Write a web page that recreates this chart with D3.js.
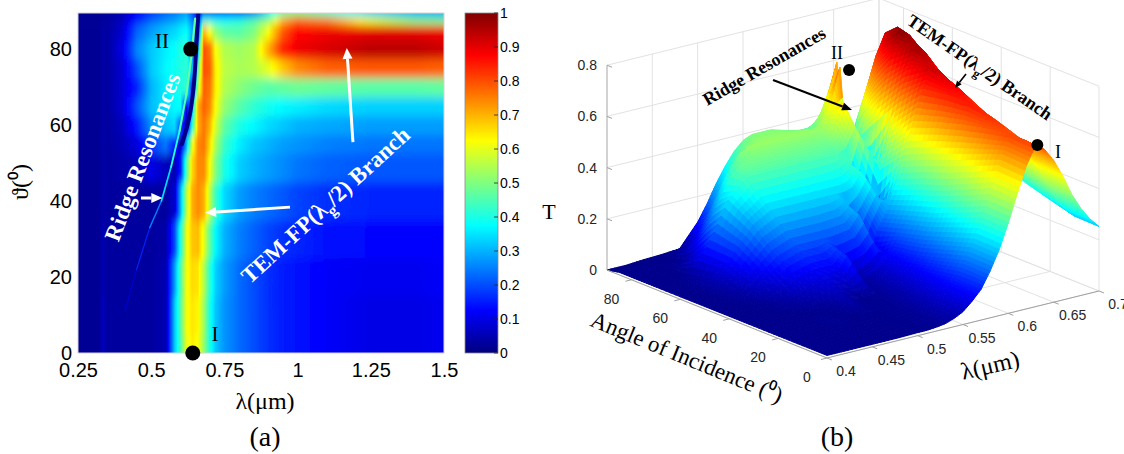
<!DOCTYPE html>
<html>
<head>
<meta charset="utf-8">
<script src="https://cdnjs.cloudflare.com/ajax/libs/d3/7.8.5/d3.min.js"></script>
<style>
body { margin: 0; padding: 0; background: #fff; }
svg { display: block; }
</style>
<title>Transmission map and surface</title>
</head>
<body>
<svg id="fig" width="1124" height="454"></svg>
<script>
	/* panel (a): T(lambda, theta) map */
	var lamA = [0.25, 0.32, 0.335, 0.35, 0.40, 0.45, 0.50, 0.55, 0.58, 0.60, 0.62, 0.64, 0.66,
		0.68, 0.70, 0.72, 0.75, 0.80, 0.85, 0.90, 0.95, 1.00, 1.10, 1.25, 1.40, 1.50];
	var angA = [0, 10, 20, 30, 40, 50, 55, 60, 65, 70, 75, 80, 85, 88, 89.5];
	var transA = [
		[.02,.02,.06,.03,.03,.03,.03,.05,.32,.45,.60,.64,.62,.52,.40,.32,.27,.23,.20,.17,.15,.14,.12,.10,.10,.11],
		[.02,.02,.06,.03,.03,.03,.03,.05,.32,.46,.61,.65,.63,.53,.40,.32,.27,.23,.20,.17,.15,.14,.12,.10,.10,.11],
		[.02,.02,.05,.03,.03,.03,.03,.05,.28,.45,.61,.66,.65,.55,.42,.33,.28,.23,.20,.17,.15,.14,.12,.11,.11,.12],
		[.02,.02,.05,.03,.03,.03,.03,.04,.20,.40,.60,.68,.69,.60,.47,.37,.30,.25,.22,.19,.17,.16,.14,.13,.13,.13],
		[.02,.02,.04,.03,.03,.03,.03,.03,.08,.30,.55,.70,.74,.70,.56,.43,.34,.28,.25,.23,.21,.19,.17,.16,.16,.16],
		[.02,.02,.04,.03,.04,.05,.10,.06,.05,.15,.45,.66,.74,.74,.62,.50,.40,.33,.30,.28,.26,.24,.22,.21,.21,.21],
		[.02,.02,.04,.03,.05,.09,.18,.24,.15,.06,.30,.60,.74,.76,.66,.54,.43,.36,.32,.30,.28,.27,.25,.24,.24,.24],
		[.02,.02,.04,.03,.06,.15,.27,.32,.34,.20,.06,.40,.70,.76,.70,.58,.47,.40,.37,.34,.32,.30,.29,.28,.28,.28],
		[.02,.02,.04,.03,.08,.20,.31,.35,.37,.38,.10,.30,.70,.78,.74,.62,.52,.46,.42,.39,.37,.36,.34,.33,.33,.33],
		[.02,.02,.04,.03,.08,.16,.30,.36,.38,.40,.42,.15,.55,.78,.76,.64,.55,.51,.48,.46,.47,.48,.47,.46,.46,.47],
		[.02,.02,.04,.03,.08,.20,.32,.37,.39,.40,.42,.30,.45,.80,.78,.64,.56,.54,.55,.60,.68,.74,.78,.79,.79,.78],
		[.02,.02,.04,.03,.10,.25,.32,.36,.38,.40,.42,.25,.30,.80,.76,.62,.55,.53,.55,.70,.84,.89,.91,.94,.94,.92],
		[.02,.02,.04,.03,.08,.22,.28,.32,.34,.36,.38,.30,.15,.70,.62,.52,.47,.46,.50,.62,.79,.87,.89,.90,.90,.89],
		[.02,.02,.03,.03,.06,.15,.22,.26,.28,.30,.32,.25,.15,.40,.40,.38,.38,.40,.45,.52,.70,.78,.75,.60,.50,.48],
		[.02,.02,.03,.03,.05,.12,.18,.22,.24,.26,.28,.20,.10,.12,.12,.12,.13,.14,.22,.35,.45,.48,.42,.32,.28,.28]
	];
	// the thin ridge resonance line and the dark notch next to it
	var ridgeLam = [0.41, 0.45, 0.495, 0.535, 0.568, 0.597, 0.62, 0.637, 0.65];
	var ridgeAng = [11, 22, 33, 40, 49, 58.5, 68, 78, 88];
	var ridgeT = [0.06, 0.12, 0.20, 0.30, 0.38, 0.43, 0.46, 0.48, 0.45];
	var notchLam = [0.605, 0.63, 0.645, 0.652, 0.657, 0.661];
	var notchAng = [55, 62, 70, 78, 85, 89.5];

	var lamTicksA = [0.25, 0.5, 0.75, 1, 1.25, 1.5];
	var angTicksA = [0, 20, 40, 60, 80];
	var cbarTicks = [0, 0.1, 0.2, 0.3, 0.4, 0.5, 0.6, 0.7, 0.8, 0.9, 1];

	/* panel (b): surface T(theta, lambda) */
	var lamB = [0.40, 0.42, 0.44, 0.46, 0.48, 0.50, 0.51, 0.52, 0.53, 0.54, 0.55, 0.56, 0.57,
		0.58, 0.59, 0.60, 0.61, 0.62, 0.63, 0.64, 0.65, 0.66, 0.67, 0.68, 0.69, 0.70];
	var angB = [0, 10, 20, 30, 40, 50, 60, 70, 75, 80, 85, 90];
	var transB = [
		[.01,.01,.01,.01,.01,.012,.012,.015,.02,.032,.05,.082,.12,.183,.258,.353,.46,.56,.63,.605,.554,.485,.403,.34,.29,.252],
		[.01,.01,.01,.01,.01,.012,.012,.015,.02,.032,.05,.083,.12,.185,.26,.356,.464,.565,.635,.61,.56,.49,.405,.343,.292,.254],
		[.01,.01,.01,.015,.01,.012,.012,.015,.016,.026,.042,.068,.104,.156,.228,.315,.419,.527,.618,.644,.598,.54,.46,.384,.325,.28],
		[.01,.01,.01,.01,.015,.04,.015,.012,.013,.02,.034,.054,.087,.127,.194,.275,.375,.489,.596,.67,.643,.59,.516,.429,.362,.308],
		[.01,.01,.012,.03,.065,.08,.08,.08,.13,.012,.028,.046,.074,.112,.168,.245,.34,.452,.567,.665,.693,.644,.58,.497,.413,.35],
		[.01,.01,.025,.08,.135,.16,.16,.16,.16,.16,.165,.17,.22,.03,.139,.212,.299,.409,.533,.65,.73,.70,.642,.562,.467,.394],
		[.01,.01,.04,.13,.22,.26,.26,.26,.26,.26,.26,.26,.26,.26,.27,.32,.03,.312,.426,.555,.676,.76,.73,.669,.585,.486],
		[.01,.01,.02,.14,.28,.35,.35,.35,.35,.35,.35,.35,.35,.35,.35,.35,.37,.44,.04,.437,.569,.694,.78,.749,.686,.60],
		[.01,.01,.01,.075,.23,.36,.38,.38,.38,.38,.38,.38,.38,.38,.38,.38,.42,.52,.04,.373,.497,.624,.732,.762,.708,.639],
		[.01,.01,.01,.02,.135,.275,.345,.39,.41,.41,.41,.41,.41,.41,.41,.41,.41,.48,.63,.04,.403,.526,.641,.72,.691,.634],
		[.01,.01,.01,.01,.05,.165,.235,.30,.35,.385,.40,.40,.40,.40,.39,.39,.38,.39,.48,.62,.04,.355,.446,.523,.545,.506],
		[0,0,.005,.008,.013,.10,.16,.23,.29,.34,.375,.39,.39,.39,.38,.37,.36,.36,.37,.42,.50,.03,.219,.267,.30,.288]
	];
	var lamTicksB = [0.4, 0.45, 0.5, 0.55, 0.6, 0.65, 0.7];
	var angTicksB = [0, 20, 40, 60, 80];
	var tTicksB = [0, 0.2, 0.4, 0.6, 0.8];
	// marked points II and I on the surface: [theta, lambda, T]
	var pointsB = [[80, 0.64, 0.61], [0, 0.632, 0.63]];

	var SANS = "'Liberation Sans', Arial, sans-serif";
	var SERIF = "'Liberation Serif', 'Times New Roman', serif";

	function jet(t) {
		t = Math.max(0, Math.min(1, t));
		function c(v) { return Math.round(255 * Math.max(0, Math.min(1, v))); }
		return "rgb(" + c(1.5 - Math.abs(4 * t - 3)) + "," + c(1.5 - Math.abs(4 * t - 2)) + ","
			+ c(1.5 - Math.abs(4 * t - 1)) + ")";
	}

	function arrow(g, x1, y1, x2, y2, color, w, hl, hw) {
		var a = Math.atan2(y2 - y1, x2 - x1);
		var bx = x2 - hl * Math.cos(a), by = y2 - hl * Math.sin(a);
		var px = -Math.sin(a) * hw / 2, py = Math.cos(a) * hw / 2;
		g.append("line").attr("x1", x1).attr("y1", y1).attr("x2", bx).attr("y2", by)
			.attr("stroke", color).attr("stroke-width", w);
		g.append("path").attr("fill", color)
			.attr("d", "M" + x2 + "," + y2 + "L" + (bx + px) + "," + (by + py) + "L" + (bx - px) + "," + (by - py) + "Z");
	}

	function branchText(g, x, y, rot, size, color) {
		var t = g.append("text").attr("transform", "translate(" + x + "," + y + ") rotate(" + rot + ")")
			.attr("text-anchor", "middle").attr("dy", "0.35em").attr("fill", color)
			.attr("font-family", SERIF).attr("font-weight", "bold").attr("font-size", size);
		t.append("tspan").text("TEM-FP(\u03bb");
		t.append("tspan").attr("font-size", size * 0.68).attr("dy", size * 0.28).text("g");
		t.append("tspan").attr("dy", -size * 0.28).text("/2) Branch");
	}

	var svg = d3.select("#fig");
	var defs = svg.append("defs");
	svg.append("rect").attr("width", 1124).attr("height", 454).attr("fill", "#fff");

	/* ---------- (a) ---------- */
	var xA = d3.scaleLinear().domain([0.25, 1.5]).range([78, 444]);
	var yA = d3.scaleLinear().domain([0, 89.5]).range([353, 13]);

	defs.append("clipPath").attr("id", "clipA").append("rect")
		.attr("x", 78).attr("y", 13).attr("width", 366).attr("height", 340);
	defs.append("filter").attr("id", "soft").attr("x", "-5%").attr("y", "-20%")
		.attr("width", "110%").attr("height", "140%")
		.append("feGaussianBlur").attr("stdDeviation", "0 5");

	// one horizontal gradient per angle row (jet is piecewise linear, so a few
	// sub-stops per interval keep the colours right, like shading interp)
	var x0 = xA(lamA[0]), x1 = xA(lamA[lamA.length - 1]);
	angA.forEach(function(a, i) {
		var g = defs.append("linearGradient").attr("id", "rowA" + i)
			.attr("gradientUnits", "userSpaceOnUse")
			.attr("x1", x0).attr("x2", x1).attr("y1", 0).attr("y2", 0);
		var row = transA[i];
		for (var j = 0; j < lamA.length; j++) {
			var last = j == lamA.length - 1;
			var n = last ? 1 : 4;
			for (var k = 0; k < n; k++) {
				var f = k / n;
				var lam = last ? lamA[j] : lamA[j] + f * (lamA[j + 1] - lamA[j]);
				var t = last ? row[j] : row[j] + f * (row[j + 1] - row[j]);
				g.append("stop").attr("offset", (xA(lam) - x0) / (x1 - x0)).attr("stop-color", jet(t));
			}
		}
	});

	var mapA = svg.append("g").attr("clip-path", "url(#clipA)");
	var bands = mapA.append("g").attr("filter", "url(#soft)");
	angA.forEach(function(a, i) {
		var top = i == angA.length - 1 ? yA(angA[i]) - 30 : yA((angA[i] + angA[i + 1]) / 2);
		var bot = i == 0 ? yA(0) + 30 : yA((angA[i - 1] + angA[i]) / 2);
		bands.append("rect").attr("x", x0).attr("width", x1 - x0)
			.attr("y", top).attr("height", bot - top + 0.5)
			.attr("fill", "url(#rowA" + i + ")");
	});

	var notch = d3.line().x(function(d, i) { return xA(notchLam[i]); })
		.y(function(d, i) { return yA(notchAng[i]); }).curve(d3.curveCatmullRom);
	mapA.append("path").attr("d", notch(notchLam)).attr("fill", "none")
		.attr("stroke", jet(0.01)).attr("stroke-width", 4).attr("stroke-linecap", "round");
	for (var r = 0; r < ridgeLam.length - 1; r++) {
		mapA.append("line")
			.attr("x1", xA(ridgeLam[r])).attr("y1", yA(ridgeAng[r]))
			.attr("x2", xA(ridgeLam[r + 1])).attr("y2", yA(ridgeAng[r + 1]))
			.attr("stroke", jet((ridgeT[r] + ridgeT[r + 1]) / 2))
			.attr("stroke-width", 0.8 + 3 * ridgeT[r]).attr("stroke-linecap", "round");
	}

	svg.append("rect").attr("x", 78).attr("y", 13).attr("width", 366).attr("height", 340)
		.attr("fill", "none").attr("stroke", "#d4d4d4").attr("stroke-width", 1);

	var axA = svg.append("g").attr("transform", "translate(0,353)")
		.call(d3.axisBottom(xA).tickValues(lamTicksA).tickSize(0).tickPadding(10)
			.tickFormat(function(d) { return String(d); }));
	var ayA = svg.append("g").attr("transform", "translate(78,0)")
		.call(d3.axisLeft(yA).tickValues(angTicksA).tickSize(0).tickPadding(6));
	[axA, ayA].forEach(function(g) {
		g.select(".domain").remove();
		g.selectAll("text").attr("font-family", SANS).attr("font-size", 20).attr("fill", "#000");
	});
	ayA.selectAll("text").attr("dy", "0.3em");

	// colour bar
	var cbY = d3.scaleLinear().domain([0, 1]).range([353, 13]);
	var cg = defs.append("linearGradient").attr("id", "cbar")
		.attr("x1", 0).attr("x2", 0).attr("y1", 1).attr("y2", 0);
	[0, 0.125, 0.375, 0.625, 0.875, 1].forEach(function(t) {
		cg.append("stop").attr("offset", t).attr("stop-color", jet(t));
	});
	svg.append("rect").attr("x", 465).attr("y", 13).attr("width", 33).attr("height", 340)
		.attr("fill", "url(#cbar)").attr("stroke", "#8a8a8a").attr("stroke-width", 0.8);
	svg.selectAll(".cbtick").data(cbarTicks).enter().append("line")
		.attr("x1", 494).attr("x2", 498).attr("y1", cbY).attr("y2", cbY)
		.attr("stroke", "#222").attr("stroke-width", 0.8);
	var acb = svg.append("g").attr("transform", "translate(498,0)")
		.call(d3.axisRight(cbY).tickValues(cbarTicks).tickSize(0).tickPadding(2)
			.tickFormat(function(d) { return String(d); }));
	acb.select(".domain").remove();
	acb.selectAll("text").attr("font-family", SANS).attr("font-size", 14).attr("fill", "#000");

	// annotations (a)
	var annA = svg.append("g");
	arrow(annA, xA(0.465), yA(40.8), xA(0.538), yA(40.8), "#fff", 3, 11, 10);
	arrow(annA, xA(0.974), yA(38.4), xA(0.684), yA(36.9), "#fff", 3, 11, 10);
	arrow(annA, xA(1.189), yA(55.5), xA(1.168), yA(80.3), "#fff", 3, 11, 10);
	annA.append("text").attr("transform", "translate(" + xA(0.469) + "," + yA(51.6) + ") rotate(-69.4)")
		.attr("text-anchor", "middle").attr("dy", "0.35em").attr("fill", "#fff")
		.attr("font-family", SERIF).attr("font-weight", "bold").attr("font-size", 23)
		.text("Ridge Resonances");
	branchText(annA, xA(1.094), yA(39), -42.5, 23, "#fff");
	annA.append("circle").attr("cx", xA(0.635)).attr("cy", yA(80)).attr("r", 7.5).attr("fill", "#000");
	annA.append("circle").attr("cx", xA(0.642)).attr("cy", yA(0)).attr("r", 7.5).attr("fill", "#000");
	annA.append("text").attr("x", 162).attr("y", 48).attr("text-anchor", "middle")
		.attr("font-family", SERIF).attr("font-size", 21).text("II");
	annA.append("text").attr("x", 215).attr("y", 341).attr("text-anchor", "middle")
		.attr("font-family", SERIF).attr("font-size", 21).text("I");

	svg.append("text").attr("x", 265).attr("y", 409).attr("text-anchor", "middle")
		.attr("font-family", SERIF).attr("font-size", 24).text("\u03bb(\u03bcm)");
	svg.append("text").attr("transform", "translate(28,182) rotate(-90)").attr("text-anchor", "middle")
		.attr("font-family", SERIF).attr("font-size", 24).text("\u03d1(\u2070)");
	svg.append("text").attr("x", 265).attr("y", 446).attr("text-anchor", "middle")
		.attr("font-family", SERIF).attr("font-size", 28).text("(a)");

	/* ---------- (b) ---------- */
	var sTh = d3.scaleLinear().domain([0, 90]).range([0, 1]);
	var sLam = d3.scaleLinear().domain([0.4, 0.7]).range([0, 1]);
	var sT = d3.scaleLinear().domain([0, 1]).range([0, 256]);
	function proj(th, lam, t) {
		var u = sTh(th), v = sLam(lam);
		return [827 - 220 * u + 272 * v, 358 - 88 * u - 67 * v - sT(t)];
	}
	function seg(g, a, b, color, w) {
		g.append("line").attr("x1", a[0]).attr("y1", a[1]).attr("x2", b[0]).attr("y2", b[1])
			.attr("stroke", color).attr("stroke-width", w);
	}

	var box = svg.append("g");
	var GRID = "#e2e2e2";
	lamTicksB.forEach(function(l) {
		seg(box, proj(90, l, 0), proj(90, l, 0.8), GRID, 1);
		seg(box, proj(0, l, 0), proj(90, l, 0), GRID, 1);
	});
	angTicksB.concat([90]).forEach(function(a) {
		seg(box, proj(a, 0.7, 0), proj(a, 0.7, 0.8), GRID, 1);
		seg(box, proj(a, 0.4, 0), proj(a, 0.7, 0), GRID, 1);
	});
	tTicksB.forEach(function(t) {
		seg(box, proj(90, 0.4, t), proj(90, 0.7, t), GRID, 1);
		seg(box, proj(0, 0.7, t), proj(90, 0.7, t), GRID, 1);
	});
	seg(box, proj(90, 0.4, 0), proj(90, 0.4, 0.8), "#b4b4b4", 1);

	// each grid cell is drawn as a smooth bilinear patch (split into small facets),
	// then all facets are painted back to front
	var tMax = d3.max(transB, function(r) { return d3.max(r); });
	var NS = 5;
	var facets = [];
	for (var i = 0; i < angB.length - 1; i++) {
		for (var j = 0; j < lamB.length - 1; j++) {
			var t00 = transB[i][j], t10 = transB[i + 1][j], t01 = transB[i][j + 1], t11 = transB[i + 1][j + 1];
			var cell = function(fa, fb) {
				var th = angB[i] + fa * (angB[i + 1] - angB[i]);
				var lam = lamB[j] + fb * (lamB[j + 1] - lamB[j]);
				var t = t00 * (1 - fa) * (1 - fb) + t10 * fa * (1 - fb) + t01 * (1 - fa) * fb + t11 * fa * fb;
				return { p: proj(th, lam, t), t: t, floor: proj(th, lam, 0)[1] };
			};
			for (var a = 0; a < NS; a++) {
				for (var b = 0; b < NS; b++) {
					var c = [cell(a / NS, b / NS), cell((a + 1) / NS, b / NS),
						cell((a + 1) / NS, (b + 1) / NS), cell(a / NS, (b + 1) / NS)];
					facets.push({
						pts: c.map(function(d) { return d.p; }),
						t: d3.mean(c, function(d) { return d.t; }),
						depth: d3.mean(c, function(d) { return d.floor; })
					});
				}
			}
		}
	}
	facets.sort(function(a, b) { return a.depth - b.depth; });
	svg.append("g").selectAll("path").data(facets).enter().append("path")
		.attr("d", function(q) { return "M" + q.pts.join("L") + "Z"; })
		.attr("fill", function(q) { return jet(q.t / tMax); })
		.attr("stroke", function(q) { return jet(q.t / tMax); })
		.attr("stroke-width", 1).attr("stroke-linejoin", "round");

	var axes = svg.append("g");
	seg(axes, proj(0, 0.4, 0), proj(90, 0.4, 0), "#a0a0a0", 1);
	seg(axes, proj(0, 0.4, 0), proj(0, 0.7, 0), "#a0a0a0", 1);
	angTicksB.forEach(function(a) {
		var p = proj(a, 0.4, 0);
		seg(axes, p, [p[0] - 6, p[1] + 1.5], "#a0a0a0", 1);
		axes.append("text").attr("x", p[0] - 20).attr("y", p[1] + 24).attr("text-anchor", "middle")
			.attr("font-family", SANS).attr("font-size", 14).attr("fill", "#262626").text(a);
	});
	lamTicksB.forEach(function(l) {
		var p = proj(0, l, 0);
		seg(axes, p, [p[0] + 5, p[1] + 2], "#a0a0a0", 1);
		axes.append("text").attr("x", p[0] + 19).attr("y", p[1] + 18).attr("text-anchor", "middle")
			.attr("font-family", SANS).attr("font-size", 14).attr("fill", "#262626").text(String(l));
	});
	tTicksB.forEach(function(t) {
		var p = proj(90, 0.4, t);
		seg(axes, p, [p[0] + 5, p[1] + 2], "#a0a0a0", 1);
		axes.append("text").attr("x", p[0] - 10).attr("y", p[1] + 5).attr("text-anchor", "end")
			.attr("font-family", SANS).attr("font-size", 14).attr("fill", "#262626").text(String(t));
	});

	var annB = svg.append("g");
	pointsB.forEach(function(d) {
		var p = proj(d[0], d[1], d[2]);
		annB.append("circle").attr("cx", p[0]).attr("cy", p[1]).attr("r", 6).attr("fill", "#000");
	});
	annB.append("text").attr("x", 837).attr("y", 59).attr("text-anchor", "middle")
		.attr("font-family", SERIF).attr("font-size", 18).text("II");
	annB.append("text").attr("x", 1058).attr("y", 158).attr("text-anchor", "middle")
		.attr("font-family", SERIF).attr("font-size", 18).text("I");
	annB.append("text").attr("transform", "translate(764,66) rotate(-30)")
		.attr("text-anchor", "middle").attr("dy", "0.35em")
		.attr("font-family", SERIF).attr("font-weight", "bold").attr("font-size", 18)
		.text("Ridge Resonances");
	arrow(annB, 773, 80, 852, 110, "#000", 2, 10, 8);
	branchText(annB, 980, 67, 34.6, 18, "#000");
	arrow(annB, 966, 74, 955, 88, "#000", 1.6, 7, 6);

	svg.append("text").attr("x", 549).attr("y", 219).attr("text-anchor", "middle")
		.attr("font-family", SERIF).attr("font-size", 22).text("T");
	svg.append("text").attr("transform", "translate(687,357) rotate(22.3)")
		.attr("text-anchor", "middle").attr("dy", "0.35em")
		.attr("font-family", SERIF).attr("font-size", 23).text("Angle of Incidence (\u2070)");
	svg.append("text").attr("transform", "translate(990,365) rotate(-13)")
		.attr("text-anchor", "middle").attr("dy", "0.35em")
		.attr("font-family", SERIF).attr("font-size", 24).text("\u03bb(\u03bcm)");
	svg.append("text").attr("x", 837).attr("y", 446).attr("text-anchor", "middle")
		.attr("font-family", SERIF).attr("font-size", 28).text("(b)");
</script>
</body>
</html>
